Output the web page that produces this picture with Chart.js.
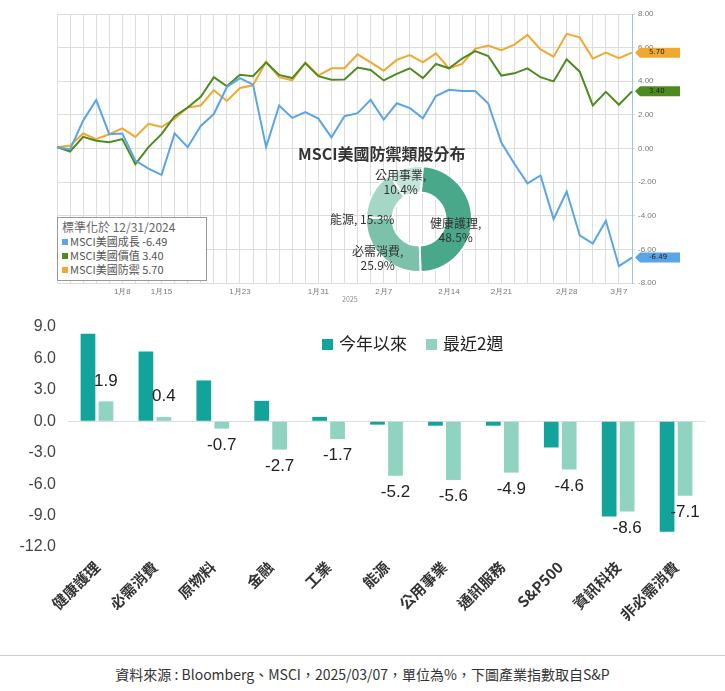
<!DOCTYPE html>
<html lang="zh-Hant">
<head>
<meta charset="UTF-8">
<title>MSCI美國防禦類股</title>
<script src="https://cdn.jsdelivr.net/npm/chart.js"></script>
<style>
  body { margin: 0; background: #fff; font-family: "Noto Sans CJK TC", "Noto Sans", sans-serif; }
  #wrap { position: relative; width: 725px; height: 691px; }
  .abs { position: absolute; }
  #legendBox { left: 57px; top: 217px; width: 150px; height: 64px; border: 1px solid #999; background: #fff;
    font-size: 11px; line-height: 14px; color: #555; padding: 2px 4px; box-sizing: border-box; }
  #legendBox .h { font-size: 12px; color: #666; }
  .sq { display: inline-block; width: 6px; height: 6px; margin-right: 2px; vertical-align: 1px; }
  .dl { font-size: 12px; color: #333; text-align: center; line-height: 14px; }
  #barLegend { left: 322px; top: 330px; font-size: 17px; color: #222; }
  #barLegend span.s { display: inline-block; width: 11px; height: 11px; margin-right: 6px; }
  #footer { left: 0; top: 655px; width: 725px; border-top: 1px solid #ccc; text-align: center;
    font-size: 14px; color: #333; padding-top: 8px; }
</style>
</head>
<body>
<div id="wrap">
  <canvas id="lineChart" class="abs" style="left:0;top:0;width:725px;height:305px"></canvas>
  <div id="legendBox" class="abs">
    <div class="h">標準化於 12/31/2024</div>
    <div><span class="sq" style="background:#5aa5e6"></span>MSCI美國成長 -6.49</div>
    <div><span class="sq" style="background:#4d8b1f"></span>MSCI美國價值 3.40</div>
    <div><span class="sq" style="background:#f0a830"></span>MSCI美國防禦 5.70</div>
  </div>
  <div class="abs" style="left:298px;top:141px;font-size:16px;font-weight:bold;color:#333">MSCI美國防禦類股分布</div>
  <canvas id="donut" class="abs" style="left:365px;top:165px;width:108px;height:108px"></canvas>
  <div class="abs dl" style="left:375px;top:168px">公用事業,<br>10.4%</div>
  <div class="abs dl" style="left:330px;top:212px">能源, 15.3%</div>
  <div class="abs dl" style="left:352px;top:244px">必需消費,<br>25.9%</div>
  <div class="abs dl" style="left:430px;top:216px">健康護理,<br>48.5%</div>
  <div class="abs" style="left:342px;top:294px;font-size:7px;color:#888">2025</div>

  <canvas id="barChart" class="abs" style="left:0;top:305px;width:725px;height:345px"></canvas>
  <div id="barLegend" class="abs"><span class="s" style="background:#12a39a"></span>今年以來&nbsp;&nbsp;&nbsp;&nbsp;&nbsp;<span class="s" style="background:#8fd3c0"></span>最近2週</div>
  <div id="footer" class="abs">資料來源 : Bloomberg、MSCI，2025/03/07，單位為%，下圖產業指數取自S&amp;P</div>
</div>

<script>
// 上圖：標準化走勢（交易日）
const growth = [0.08,-0.05,1.66,2.88,0.85,0.89,-0.72,-1.2,-1.57,0.9,0.08,1.34,2.05,3.66,4.19,3.8,0.08,2.56,1.82,2.17,1.78,0.66,1.92,2.1,2.89,1.72,2.69,2.4,
  1.8,3.12,3.49,3.42,3.42,2.68,0.35,-0.91,-2.07,-1.6,-4.2,-2.56,-5.17,-5.65,-4.3,-7.0,-6.49];
const value = [0.08,-0.18,0.69,0.46,0.37,0.56,-0.93,0.08,0.85,1.92,2.44,3.08,4.24,3.7,4.38,4.3,5.12,4.38,4.19,5.08,4.3,4.09,4.11,4.82,4.67,4.05,4.44,4.77,
  4.19,5.03,4.77,5.35,5.79,5.5,4.34,4.47,4.77,4.24,3.99,5.31,4.57,2.56,3.37,2.6,3.40];
const defensive = [0.08,0.18,0.89,0.56,0.85,1.2,0.69,1.47,1.28,1.78,2.44,2.56,3.47,2.83,3.6,3.76,5.16,4.24,4.05,5.12,4.34,4.77,4.77,5.6,5.12,4.63,5.27,5.56,
  5.12,5.66,4.77,5.03,5.93,6.12,5.85,6.18,6.76,5.89,5.46,6.82,6.61,5.35,5.7,5.37,5.70];
const dateTicks = {5:'1月8', 8:'1月15', 14:'1月23', 20:'1月31', 25:'2月7', 30:'2月14', 34:'2月21', 39:'2月28', 43:'3月7'};
const lastValues = [{v: 5.70, c: '#f0a830'}, {v: 3.40, c: '#4d8b1f'}, {v: -6.49, c: '#5aa5e6'}];

// 甜甜圈
const donutLabels = ['健康護理', '必需消費', '能源', '公用事業'];
const donutValues = [48.5, 25.9, 15.3, 10.4];
const donutColors = ['#4aa88a', '#7cc2aa', '#a6d7c6', '#c6e6db'];

// 下圖：產業表現
const sectors = ['健康護理','必需消費','原物料','金融','工業','能源','公用事業','通訊服務','S&P500','資訊科技','非必需消費'];
const ytd = [8.35, 6.65, 3.9, 1.95, 0.42, -0.32, -0.42, -0.42, -2.5, -9.1, -10.55];
const twoWeeks = [1.9, 0.4, -0.7, -2.7, -1.7, -5.2, -5.6, -4.9, -4.6, -8.6, -7.1];

const idx = growth.map((_, i) => i);

const badgePlugin = {
  id: 'badges',
  afterDraw(chart) {
    const ctx = chart.ctx, y = chart.scales.y;
    const x0 = chart.chartArea.right + 3;
    ctx.save();
    ctx.font = '7px "DejaVu Sans"';
    lastValues.forEach(b => {
      const py = y.getPixelForValue(b.v);
      ctx.fillStyle = b.c;
      ctx.beginPath();
      ctx.moveTo(x0, py);
      ctx.lineTo(x0 + 5, py - 5);
      ctx.lineTo(x0 + 45, py - 5);
      ctx.lineTo(x0 + 45, py + 5);
      ctx.lineTo(x0 + 5, py + 5);
      ctx.closePath();
      ctx.fill();
      ctx.fillStyle = '#222';
      ctx.textBaseline = 'middle';
      ctx.fillText(b.v.toFixed(2), x0 + 14, py);
    });
    ctx.restore();
  }
};

new Chart(document.getElementById('lineChart'), {
  type: 'line',
  data: {
    labels: idx,
    datasets: [
      {data: growth, borderColor: '#5aa5e6'},
      {data: value, borderColor: '#4d8b1f'},
      {data: defensive, borderColor: '#f0a830'}
    ].map(d => Object.assign(d, {borderWidth: 2, pointRadius: 0, tension: 0, fill: false}))
  },
  options: {
    responsive: false, animation: false,
    layout: {padding: {top: 14, left: 57}},
    plugins: {legend: {display: false}, tooltip: {enabled: false}},
    scales: {
      x: {
        grid: {color: '#ddd', borderDash: [2, 2], drawTicks: false},
        border: {display: false},
        ticks: {autoSkip: false, maxRotation: 0, padding: 4, color: '#777', font: {size: 8},
          callback: (v, i) => dateTicks[i] || ''},
        afterFit: s => { s.height = 22; }
      },
      y: {
        position: 'right', min: -8, max: 8,
        grid: {color: '#ddd', borderDash: [2, 2], drawTicks: true, tickLength: 3},
        border: {color: '#9bc4e8'},
        ticks: {stepSize: 2, color: '#777', font: {size: 8}, callback: v => v.toFixed(2)},
        afterFit: s => { s.width = 93; }
      }
    }
  },
  plugins: [badgePlugin]
});

new Chart(document.getElementById('donut'), {
  type: 'doughnut',
  data: {labels: donutLabels, datasets: [{data: donutValues, backgroundColor: donutColors, borderColor: '#fff', borderWidth: 2}]},
  options: {responsive: false, animation: false, cutout: '50%', rotation: 4,
    plugins: {legend: {display: false}, tooltip: {enabled: false}}}
});

const valueLabels = {
  id: 'valueLabels',
  afterDatasetsDraw(chart) {
    const ctx = chart.ctx, meta = chart.getDatasetMeta(1);
    ctx.save();
    ctx.font = '17px "Liberation Sans Narrow", "Liberation Sans"';
    ctx.fillStyle = '#222';
    ctx.textAlign = 'center';
    meta.data.forEach((bar, i) => {
      const v = twoWeeks[i];
      ctx.textBaseline = v >= 0 ? 'bottom' : 'top';
      ctx.fillText(v.toFixed(1), bar.x, v >= 0 ? bar.y - 12 : bar.y + 8);
    });
    ctx.restore();
  }
};

new Chart(document.getElementById('barChart'), {
  type: 'bar',
  data: {
    labels: sectors,
    datasets: [
      {data: ytd, backgroundColor: '#12a39a'},
      {data: twoWeeks, backgroundColor: '#8fd3c0'}
    ]
  },
  options: {
    responsive: false, animation: false,
    layout: {padding: {top: 22, right: 20}},
    datasets: {bar: {categoryPercentage: 0.62, barPercentage: 0.82}},
    plugins: {legend: {display: false}, tooltip: {enabled: false}},
    scales: {
      x: {
        grid: {display: false}, border: {display: false},
        ticks: {autoSkip: false, maxRotation: 45, minRotation: 45, color: '#333',
          font: {size: 15, weight: 'bold', family: '"Noto Sans CJK TC"'}},
        afterFit: s => { s.height = 103; }
      },
      y: {
        min: -12, max: 9,
        grid: {display: true, color: c => c.tick.value === 0 ? '#ddd' : 'transparent', drawTicks: false},
        border: {display: false},
        ticks: {stepSize: 3, color: '#444', padding: 12,
          font: {size: 16, family: '"Liberation Sans Narrow", "Liberation Sans"'},
          callback: v => v.toFixed(1)},
        afterFit: s => { s.width = 68; }
      }
    }
  },
  plugins: [valueLabels]
});
</script>
</body>
</html>
